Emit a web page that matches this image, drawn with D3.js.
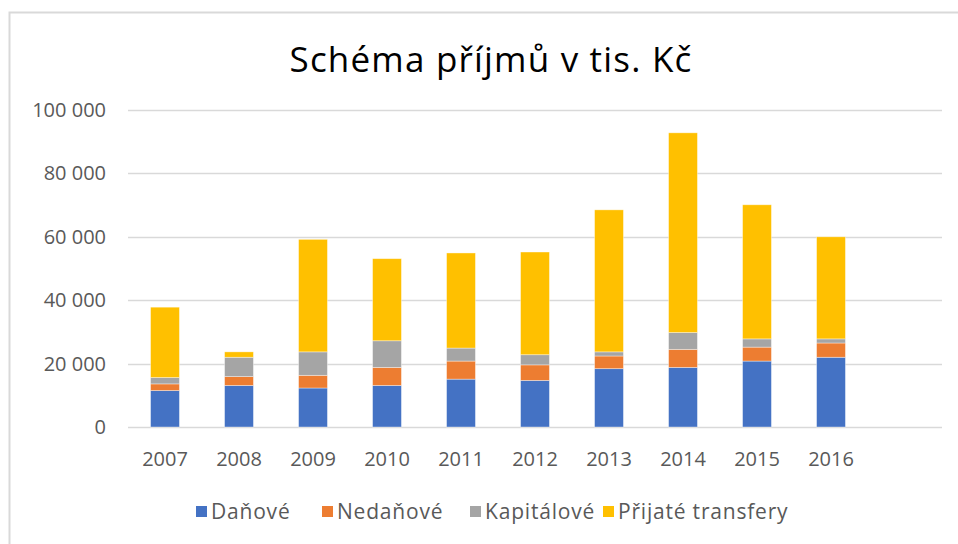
<!DOCTYPE html>
<html lang="cs">
<head>
<meta charset="utf-8">
<script src="https://d3js.org/d3.v7.min.js"></script>
<style>
  body { margin: 0; background: #fff; }
  svg text { font-family: "Open Sans", "Noto Sans", sans-serif; fill: #595959; }
</style>
</head>
<body>
<svg id="chart" width="958" height="544"></svg>
<script>
// values (tis. Kč)
var years     = ["2007","2008","2009","2010","2011","2012","2013","2014","2015","2016"]
var seriesNames = ["Daňové","Nedaňové","Kapitálové","Přijaté transfery"]
var danove    = [11500, 13100, 12300, 13100, 15100, 14700, 18400, 18800, 20800, 22000]
var nedanove  = [ 2100,  2800,  4000,  5700,  5700,  4900,  4000,  5700,  4400,  4500]
var kapitalove= [ 2000,  6100,  7400,  8400,  4100,  3200,  1300,  5300,  2600,  1300]
var transfery = [22200,  1700, 35500, 25900, 30000, 32400, 44800, 63000, 42300, 32200]
var yTicks    = [0, 20000, 40000, 60000, 80000, 100000]
var colors    = ["#4472C4", "#ED7D31", "#A5A5A5", "#FFC000"]

var svg = d3.select("#chart")

// chart frame (cut off on the right and bottom)
svg.append("path").attr("d", "M9.5,544 V12.5 H958")
   .attr("fill", "none").attr("stroke", "#d9d9d9").attr("stroke-width", 2)

var rows = years.map((y, i) => ({year: y, "Daňové": danove[i], "Nedaňové": nedanove[i],
    "Kapitálové": kapitalove[i], "Přijaté transfery": transfery[i]}))
var stacked = d3.stack().keys(seriesNames)(rows)

var step = 74, left = 128
var x = d3.scaleBand().domain(years).range([left, left + step*years.length]).paddingInner(0.61).paddingOuter(0.305)
var y = d3.scaleLinear().domain([0, 100000]).range([427, 110])
var gridRight = left + step*(years.length + 1)   // one empty slot on the right

var fmt = d3.formatLocale({decimal: ",", thousands: " ", grouping: [3], currency: ["", " Kč"]}).format(",d")

// grid
svg.append("g").selectAll("line").data(yTicks).join("line")
   .attr("x1", left).attr("x2", gridRight)
   .attr("y1", d => Math.round(y(d)) + 0.5).attr("y2", d => Math.round(y(d)) + 0.5)
   .attr("stroke", "#d9d9d9").attr("stroke-width", 1.5)

// y labels
svg.append("g").selectAll("text").data(yTicks).join("text")
   .attr("x", 106).attr("y", d => y(d)).attr("dy", "0.35em")
   .attr("text-anchor", "end").style("font-size", "20px")
   .text(d => fmt(d))

// bars
svg.append("g").selectAll("g").data(stacked).join("g")
   .attr("fill", (d, i) => colors[i])
   .selectAll("rect").data(d => d).join("rect")
   .attr("x", d => x(d.data.year)).attr("width", x.bandwidth())
   .attr("y", d => y(d[1])).attr("height", d => y(d[0]) - y(d[1]))
   .attr("stroke", "#fff").attr("stroke-opacity", 0.5).attr("stroke-width", 0.75)

// x labels
svg.append("g").selectAll("text").data(years).join("text")
   .attr("x", d => x(d) + x.bandwidth()/2).attr("y", 466)
   .attr("text-anchor", "middle").style("font-size", "20px")
   .text(d => d)

// title
svg.append("text").attr("x", 491).attr("y", 72).attr("text-anchor", "middle")
   .style("font-size", "35px").style("fill", "#000").style("letter-spacing", "1.2px")
   .text("Schéma příjmů v tis. Kč")

// legend
var legendX = [196, 322, 470, 603]
var lg = svg.append("g").selectAll("g").data(seriesNames).join("g")
   .attr("transform", (d, i) => "translate(" + legendX[i] + ",519)")
lg.append("rect").attr("x", 0).attr("y", -13).attr("width", 11).attr("height", 11)
   .attr("fill", (d, i) => colors[i])
lg.append("text").attr("x", 15).attr("y", 0).style("font-size", "21px").style("letter-spacing", "0.8px").text(d => d)
</script>
</body>
</html>
